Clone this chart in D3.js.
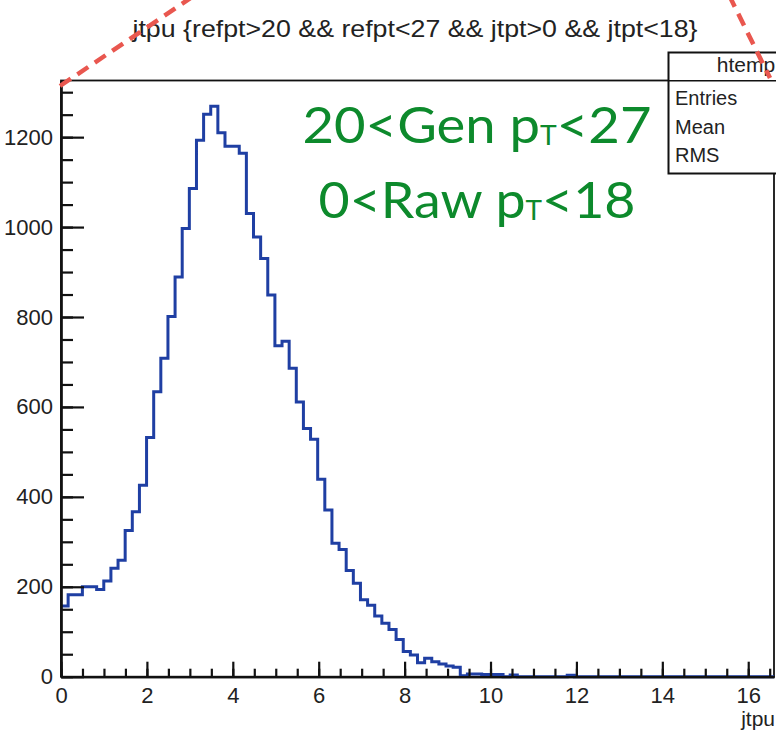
<!DOCTYPE html>
<html>
<head>
<meta charset="utf-8">
<script src="https://cdn.jsdelivr.net/npm/d3@7"></script>
<style>
body { margin:0; background:#fff; }
</style>
</head>
<body>
<div id="chart"></div>
<script>
// htemp: 100 bins of jtpu between 0 and 16.6
const counts = [
  157,182,182,200,200,194,213,241,259,325,367,426,532,
  634,708,801,889,997,1086,1193,1251,1269,1210,1180,1180,1164,1030,978,
  930,849,736,746,686,611,552,528,439,371,297,283,
  236,208,171,159,135,119,105,83,56,48,31,41,33,28,24,21,
  2,6,6,5,5,5,0,4,
  0,0,0,0,0,0,0,3,
  0,0,0,0,0,0,0,0,0,0,0,0,0,0,0,0,0,0,0,0,0,0,0,0,0,0,0,0
]
const x_range = [0, 16.6]
const y_range = [0, 1326]
const x_major = [0,2,4,6,8,10,12,14,16]
const y_major = [0,200,400,600,800,1000,1200]
const x_minor_step = 0.5
const y_minor_step = 50
const title_text = 'jtpu {refpt>20 && refpt<27 && jtpt>0 && jtpt<18}'
const x_title = 'jtpu'
const stat_title = 'htemp'
const stat_names = ['Entries','Mean','RMS']
const cut_lines = [['20<Gen p','T','<27'], ['0<Raw p','T','<18']]

init()

function init(){
    let svg = d3.select('#chart')
                .append('svg')
                .attr('width',776)
                .attr('height',733)
                .style('display','block')

    const font = "'Liberation Sans', Arial, sans-serif"

    let x = d3.scaleLinear().domain(x_range).range([61, 774])
    let y = d3.scaleLinear().domain(y_range).range([676.7, 80.5])

    // frame
    svg.append('rect')
    .attr('x',x(x_range[0]))
    .attr('y',y(y_range[1]))
    .attr('width',x(x_range[1]) - x(x_range[0]))
    .attr('height',y(0) - y(y_range[1]))
    .style('fill','none')
    .style('stroke','#111')
    .style('stroke-width',1.8)

    // histogram outline
    const bin_w = (x_range[1] - x_range[0]) / counts.length
    let pts = counts.map((c,i) => [x_range[0] + i*bin_w, c])
    pts.push([x_range[1], counts[counts.length-1]])

    let line = d3.line()
    .x(d => x(d[0]))
    .y(d => y(d[1]))
    .curve(d3.curveStepAfter)

    svg.append('path')
    .datum(pts)
    .attr('d',line)
    .style('fill','none')
    .style('stroke','#1f3fa3')
    .style('stroke-width',3)

    // axes
    let x_minor = d3.range(x_range[0], x_range[1], x_minor_step)
    let y_minor = d3.range(0, y_range[1], y_minor_step)

    svg.append('g')
    .attr('transform',`translate(0,${y(0)})`)
    .call(d3.axisBottom(x).tickValues(x_minor).tickSize(-8).tickSizeOuter(0).tickFormat(''))

    svg.append('g')
    .attr('transform',`translate(0,${y(0)})`)
    .call(d3.axisBottom(x).tickValues(x_major).tickSize(-15).tickSizeOuter(0).tickPadding(11).tickFormat(d3.format('d')))

    svg.append('g')
    .attr('transform',`translate(${x(0)},0)`)
    .call(d3.axisLeft(y).tickValues(y_minor).tickSize(-12).tickSizeOuter(0).tickFormat(''))

    svg.append('g')
    .attr('transform',`translate(${x(0)},0)`)
    .call(d3.axisLeft(y).tickValues(y_major).tickSize(-23).tickSizeOuter(0).tickPadding(8).tickFormat(d3.format('d')))

    svg.selectAll('.domain, .tick line')
    .style('stroke','#111')
    .style('stroke-width',2.2)

    svg.selectAll('.tick text')
    .style('font-family',font)
    .style('font-size','22px')
    .style('fill','#222')

    svg.append('text')
    .attr('x',775)
    .attr('y',726)
    .attr('text-anchor','end')
    .style('font-family',font)
    .style('font-size','21px')
    .style('fill','#222')
    .text(x_title)

    // stats box (its right part, with the values, lies outside the picture)
    let box = svg.append('g')
    box.append('rect')
    .attr('x',668.5)
    .attr('y',52.5)
    .attr('width',158)
    .attr('height',121)
    .style('fill','#fff')
    .style('stroke','#111')
    .style('stroke-width',2)
    box.append('line')
    .attr('x1',668.5).attr('x2',830)
    .attr('y1',80.7).attr('y2',80.7)
    .style('stroke','#111')
    .style('stroke-width',1.5)
    box.append('text')
    .attr('x',746)
    .attr('y',72)
    .attr('text-anchor','middle')
    .style('font-family',font)
    .style('font-size','21px')
    .style('fill','#222')
    .text(stat_title)

    stat_names.forEach((s,i) => {
        box.append('text')
        .attr('x',675)
        .attr('y',105 + i*28.5)
        .style('font-family',font)
        .style('font-size','20px')
        .style('fill','#222')
        .text(s)
    })

    // title
    svg.append('text')
    .attr('x',415)
    .attr('y',37)
    .attr('text-anchor','middle')
    .attr('textLength',565)
    .attr('lengthAdjust','spacingAndGlyphs')
    .style('font-family',font)
    .style('font-size','24px')
    .style('fill','#222')
    .text(title_text)

    // cut annotation
    cut_lines.forEach((parts,i) => {
        let t = svg.append('text')
        .attr('x',477)
        .attr('y',143 + i*75)
        .attr('text-anchor','middle')
        .attr('textLength',i == 0 ? 349 : 317)
        .attr('lengthAdjust','spacingAndGlyphs')
        .style('font-family',"Lato, 'Open Sans', sans-serif")
        .style('font-size','50px')
        .style('fill','#0d8a2c')
        t.append('tspan').text(parts[0])
        t.append('tspan').attr('dy',2).style('font-size','26px').text(parts[1])
        t.append('tspan').attr('dy',-2).text(parts[2])
    })

    // red dashed callout lines
    const dash_lines = [[[60,86],[195,-5]], [[729,-5],[770,78]]]
    dash_lines.forEach(l => {
        svg.append('line')
        .attr('x1',l[0][0]).attr('y1',l[0][1])
        .attr('x2',l[1][0]).attr('y2',l[1][1])
        .style('stroke','#e9574f')
        .style('stroke-width',4.5)
        .style('stroke-dasharray','13 8')
    })
}
</script>
</body>
</html>
